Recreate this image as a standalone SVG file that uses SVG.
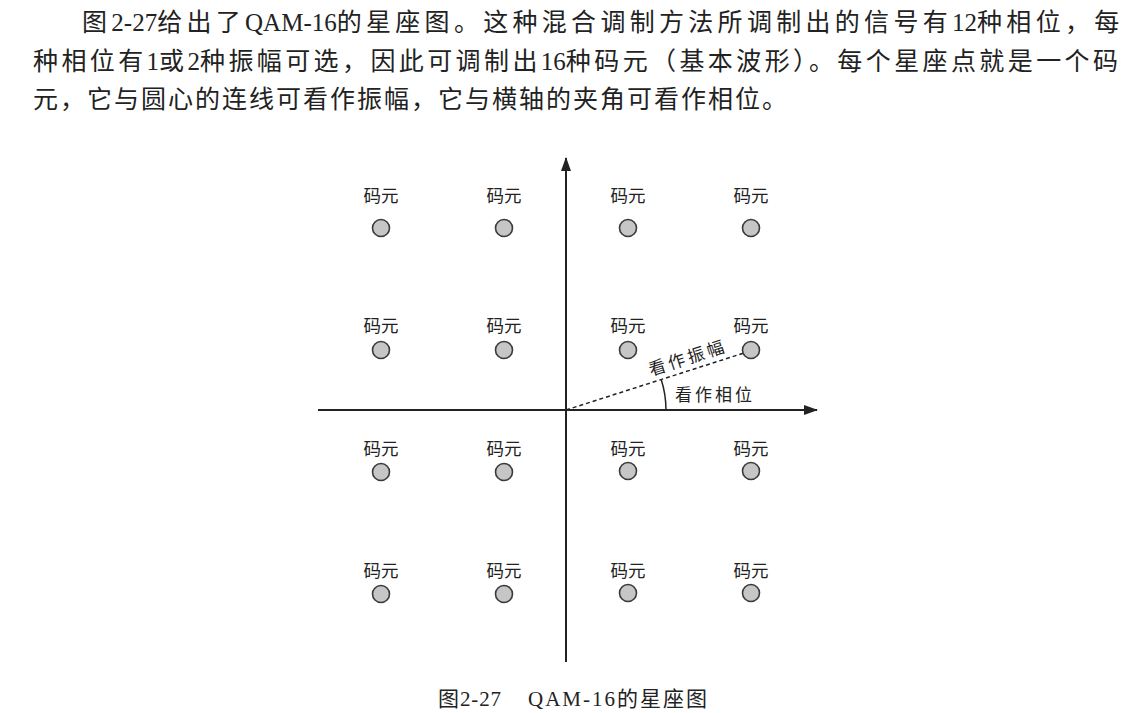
<svg xmlns="http://www.w3.org/2000/svg" width="1142" height="713" viewBox="0 0 1142 713">
<style>
.para{font-family:"Liberation Serif","Noto Sans CJK SC",serif;font-size:25px;fill:#222}
.c1{letter-spacing:4.3px}
.c2{letter-spacing:3.4px}
.c3{letter-spacing:2px}
.lbl{font-family:"Liberation Serif","Noto Sans CJK SC",serif;font-size:17.5px;fill:#222;text-anchor:middle}
.pt{fill:#c6c6c6;stroke:#3a3a3a;stroke-width:1.6}
.ax{stroke:#222;stroke-width:2;fill:none}
.cap{font-family:"Liberation Serif","Noto Sans CJK SC",serif;font-size:21px;fill:#222}
.ann{font-family:"Liberation Serif","Noto Sans CJK SC",serif;font-size:17px;fill:#222}
</style>
<defs>
<marker id="arr" viewBox="0 0 14 10" refX="13" refY="5" markerWidth="14" markerHeight="10" markerUnits="userSpaceOnUse" orient="auto">
<path d="M0,0 L14,5 L0,10 Z" fill="#222"/>
</marker>
</defs>
<rect width="1142" height="713" fill="#fff"/>
<g id="paragraph">
<text class="para" x="82" y="31"><tspan class="c1">图</tspan>2-27<tspan class="c1">给出了</tspan>QAM-16<tspan class="c1">的星座图。这种混合调制方法所调制出的信号有</tspan>12<tspan class="c1">种相位，每</tspan></text>
<text class="para" x="33" y="70"><tspan class="c2">种相位有</tspan>1<tspan class="c2">或</tspan>2<tspan class="c2">种振幅可选，因此可调制出</tspan>16<tspan class="c2">种码元（基本波形）。每个星座点就是一个码</tspan></text>
<text class="para c3" x="33" y="108">元，它与圆心的连线可看作振幅，它与横轴的夹角可看作相位。</text>
</g>
<g id="connectors">
<line class="ax" x1="318" y1="410" x2="817" y2="410" marker-end="url(#arr)"/>
<line class="ax" x1="566" y1="662" x2="566" y2="158" marker-end="url(#arr)"/>
<line x1="566" y1="410" x2="744" y2="353" stroke="#222" stroke-width="1.5" stroke-dasharray="4,3"/>
<path d="M661.2,379.4 A100,100 0 0 1 666,410" stroke="#222" stroke-width="1.5" fill="none"/>
</g>
<g id="annotations">
<text class="ann" transform="translate(651,376) rotate(-17.8)" textLength="78" lengthAdjust="spacing">看作振幅</text>
<text class="ann" x="675" y="401" textLength="77" lengthAdjust="spacing">看作相位</text>
</g>
<g id="p11"><text class="lbl" x="381" y="202">码元</text><circle class="pt" cx="381" cy="228" r="8.5"/></g>
<g id="p12"><text class="lbl" x="504" y="202">码元</text><circle class="pt" cx="504" cy="228" r="8.5"/></g>
<g id="p13"><text class="lbl" x="628" y="202">码元</text><circle class="pt" cx="628" cy="228" r="8.5"/></g>
<g id="p14"><text class="lbl" x="751" y="202">码元</text><circle class="pt" cx="751" cy="228" r="8.5"/></g>
<g id="p21"><text class="lbl" x="381" y="332">码元</text><circle class="pt" cx="381" cy="350" r="8.5"/></g>
<g id="p22"><text class="lbl" x="504" y="332">码元</text><circle class="pt" cx="504" cy="350" r="8.5"/></g>
<g id="p23"><text class="lbl" x="628" y="332">码元</text><circle class="pt" cx="628" cy="350" r="8.5"/></g>
<g id="p24"><text class="lbl" x="751" y="332">码元</text><circle class="pt" cx="751" cy="350" r="8.5"/></g>
<g id="p31"><text class="lbl" x="381" y="455">码元</text><circle class="pt" cx="381" cy="472" r="8.5"/></g>
<g id="p32"><text class="lbl" x="504" y="455">码元</text><circle class="pt" cx="504" cy="472" r="8.5"/></g>
<g id="p33"><text class="lbl" x="628" y="455">码元</text><circle class="pt" cx="628" cy="471" r="8.5"/></g>
<g id="p34"><text class="lbl" x="751" y="455">码元</text><circle class="pt" cx="751" cy="471" r="8.5"/></g>
<g id="p41"><text class="lbl" x="381" y="577">码元</text><circle class="pt" cx="381" cy="594" r="8.5"/></g>
<g id="p42"><text class="lbl" x="504" y="577">码元</text><circle class="pt" cx="504" cy="594" r="8.5"/></g>
<g id="p43"><text class="lbl" x="628" y="577">码元</text><circle class="pt" cx="628" cy="593" r="8.5"/></g>
<g id="p44"><text class="lbl" x="751" y="577">码元</text><circle class="pt" cx="751" cy="593" r="8.5"/></g>
<g id="caption">
<text class="cap" y="706"><tspan x="438" textLength="63" lengthAdjust="spacing">图2-27</tspan><tspan x="528" textLength="179" lengthAdjust="spacing">QAM-16的星座图</tspan></text>
</g>
</svg>
